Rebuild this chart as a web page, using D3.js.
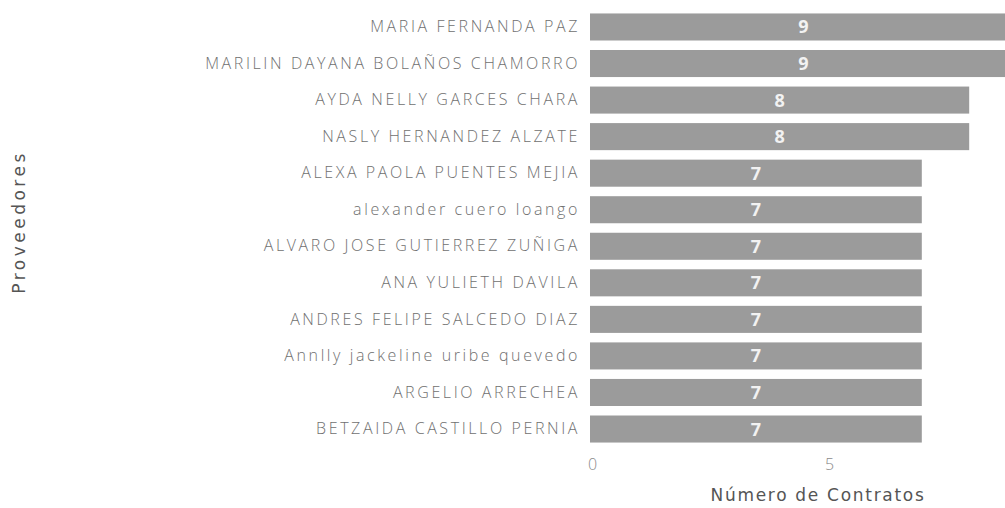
<!DOCTYPE html>
<html>
<head>
<meta charset="utf-8">
<script src="https://cdn.jsdelivr.net/npm/d3@7"></script>
<style>
  body { margin: 0; background: #fff; }
  svg { display: block; }
</style>
</head>
<body>
<svg id="chart" width="1005" height="508"></svg>
<script>
const proveedores = [
	"MARIA FERNANDA PAZ",
	"MARILIN DAYANA BOLAÑOS CHAMORRO",
	"AYDA NELLY GARCES CHARA",
	"NASLY HERNANDEZ ALZATE",
	"ALEXA PAOLA PUENTES MEJIA",
	"alexander cuero loango",
	"ALVARO JOSE GUTIERREZ ZUÑIGA",
	"ANA YULIETH DAVILA",
	"ANDRES FELIPE SALCEDO DIAZ",
	"Annlly jackeline uribe quevedo",
	"ARGELIO ARRECHEA",
	"BETZAIDA CASTILLO PERNIA"
];
const contratos = [9, 9, 8, 8, 7, 7, 7, 7, 7, 7, 7, 7];
const xTicks = [0, 5];

const chart = d3.select("#chart");
const labelFont = "'Open Sans', 'DejaVu Sans', sans-serif";

const x = d3.scaleLinear()
	.domain([0, 1])
	.range([590, 590 + 47.4]);

const y = d3.scaleBand()
	.domain(proveedores)
	.range([8.7, 447.3])
	.paddingInner(0.26)
	.paddingOuter(0.13);

// bars
const bars = chart.append("g");
bars.selectAll("rect")
	.data(contratos)
	.enter()
	.append("rect")
	.attr("x", x(0))
	.attr("y", function(d, i) { return y(proveedores[i]); })
	.attr("width", function(d) { return x(d) - x(0); })
	.attr("height", y.bandwidth())
	.attr("fill", "#9b9b9b");

// value labels
bars.selectAll("text")
	.data(contratos)
	.enter()
	.append("text")
	.attr("x", function(d) { return (x(0) + x(d)) / 2; })
	.attr("y", function(d, i) { return y(proveedores[i]) + y.bandwidth() / 2; })
	.attr("dy", "0.36em")
	.attr("text-anchor", "middle")
	.attr("font-family", labelFont)
	.attr("font-weight", "bold")
	.attr("font-size", "18px")
	.attr("fill", "#f2f2f2")
	.text(function(d) { return d; });

// y axis (category names)
const yaxis = chart.append("g")
	.attr("transform", "translate(" + (x(0) - 10) + ",0)")
	.call(d3.axisLeft(y).tickSize(0).tickPadding(0));
yaxis.select(".domain").remove();
yaxis.selectAll("text")
	.attr("font-family", labelFont)
	.attr("font-weight", 300)
	.attr("font-size", "16px")
	.attr("letter-spacing", "2.6px")
	.attr("fill", "#707070");

// x axis
const xaxis = chart.append("g")
	.attr("transform", "translate(0," + 456 + ")")
	.call(d3.axisBottom(x).tickValues(xTicks).tickSize(0).tickPadding(0).tickFormat(d3.format("d")));
xaxis.select(".domain").remove();
xaxis.selectAll("text")
	.attr("dy", "0.9em")
	.attr("transform", "translate(2,0)")
	.attr("font-family", labelFont)
	.attr("font-weight", 300)
	.attr("font-size", "16px")
	.attr("fill", "#8a8a8a");

// axis titles
chart.append("text")
	.attr("x", 818)
	.attr("y", 501)
	.attr("text-anchor", "middle")
	.attr("font-family", "'DejaVu Sans', sans-serif")
	.attr("font-size", "17px")
	.attr("letter-spacing", "1.7px")
	.attr("fill", "#555")
	.text("Número de Contratos");

chart.append("text")
	.attr("transform", "translate(25,222) rotate(-90)")
	.attr("text-anchor", "middle")
	.attr("font-family", "'DejaVu Sans', sans-serif")
	.attr("font-size", "17px")
	.attr("letter-spacing", "3.5px")
	.attr("fill", "#555")
	.text("Proveedores");
</script>
</body>
</html>
